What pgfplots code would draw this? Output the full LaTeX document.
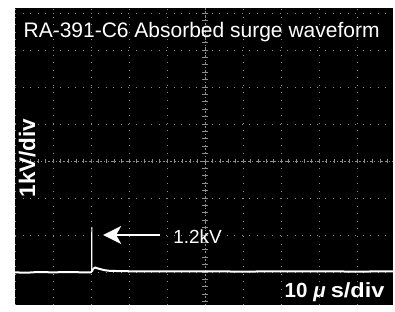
\documentclass[border=0pt]{standalone}
\usepackage{pgfplots}
\pgfplotsset{compat=1.18}
\usepackage{fontspec}
\setmainfont{Liberation Sans}
\usetikzlibrary{arrows.meta}
\definecolor{gridc}{gray}{0.55}
\protected\def\mymu{\textit{\char"03BC}}
\begin{document}
\begin{tikzpicture}
\fill[white] (-15bp,0) rectangle (380bp,305bp);
\begin{axis}[
  at={(0,0)}, anchor=south west,
  scale only axis, width=378bp, height=297bp,
  xmin=0, xmax=9.947, ymin=-3.892, ymax=4.135,
  axis background/.style={fill=black},
  axis line style={draw=none},
  xtick={0,1,...,9}, ytick={-3,-2,...,4},
  xticklabels={}, yticklabels={},
  major tick length=0pt,
  grid=major,
  major grid style={gridc, line width=0.7bp, dash pattern=on 0.9bp off 6.66bp},
  clip=true,
]
% centre cross of the graticule
\draw[gridc, line width=0.7bp, dash pattern=on 1.5bp off 2.2bp] (axis cs:0,0) -- (axis cs:10,0);
\draw[gridc, line width=0.7bp, dash pattern=on 1.5bp off 2.2bp] (axis cs:5,-4) -- (axis cs:5,4.2);
\pgfplotsinvokeforeach{0.2,0.4,...,9.9}{
  \draw[gridc, line width=0.6bp] (axis cs:#1,-0.06) -- (axis cs:#1,0.06);
}
\pgfplotsinvokeforeach{-3.8,-3.6,...,4.1}{
  \draw[gridc, line width=0.6bp] (axis cs:4.92,#1) -- (axis cs:5.08,#1);
}
% baseline part of the trace
\addplot[white, line width=2bp] coordinates {
(0,-3.01) (0.3,-3.02) (0.6,-3.00) (1.0,-3.01) (1.4,-3.00) (1.8,-3.01)
(2.0,-3.01) (2.017,-3.0)
};
% spike
\addplot[white, line width=1bp] coordinates {
(2.017,-3.0) (2.02,-1.78) (2.025,-2.9) (2.045,-2.97) (2.07,-2.90)
};
% decay and tail
\addplot[white, line width=2bp] coordinates {
(2.07,-2.90) (2.11,-2.88) (2.2,-2.91) (2.35,-2.95) (2.5,-2.97)
(3,-2.98) (4,-2.98) (5,-2.98) (6,-2.99) (7,-2.98) (8,-2.98) (9,-2.99) (9.95,-2.98)
};
\draw[white, line width=2bp, -{Stealth[length=18bp,width=18bp,inset=5bp]}]
  (axis cs:3.82,-2.0) -- (axis cs:2.32,-2.0);
\node[white, anchor=base west, inner sep=0pt, font=\fontsize{19bp}{22bp}\selectfont]
  at (axis cs:4.16,-2.22) {1.2kV};
\node[white, anchor=base, inner sep=0pt, font=\fontsize{21bp}{24bp}\selectfont]
  at (axis cs:4.91,3.35) {RA-391-C6 Absorbed surge waveform};
\node[white, anchor=base east, inner sep=0pt, font=\bfseries\fontsize{20.5bp}{24bp}\selectfont]
  at (axis cs:9.73,-3.68) {10\hspace{6bp}\mymu\hspace{5bp}\scalebox{1.15}[1]{s/div}};
\node[white, anchor=base, rotate=90, inner sep=0pt, font=\bfseries\fontsize{22.5bp}{26bp}\selectfont]
  at (axis cs:0.53,0.08) {1kV/div};
\end{axis}
\end{tikzpicture}
\end{document}
